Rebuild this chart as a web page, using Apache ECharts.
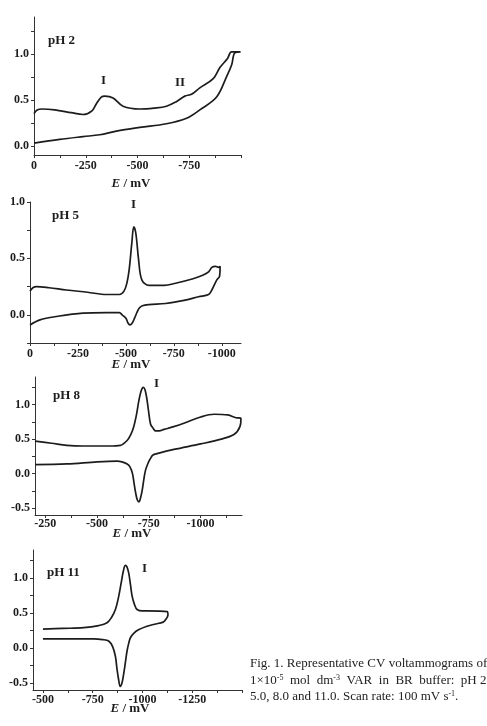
<!DOCTYPE html>
<html>
<head>
<meta charset="utf-8">
<script src="https://cdn.jsdelivr.net/npm/echarts@6/dist/echarts.min.js"></script>
<style>
  html, body { margin: 0; padding: 0; background: #fff; }
  #chart { width: 487px; height: 726px; }
</style>
</head>
<body>
<div id="chart"></div>
<script>
// pH 2 : forward scan (upper) then reverse scan (lower), E in mV, I in uA
const ph2Potential = [0, -15, -40, -100, -180, -237, -280, -302, -325, -342, -382, -430, -511, -580, -640, -688, -729, -761, -801, -866, -898, -935, -954, -998,
  -970, -955, -930, -882, -801, -737, -640, -511, -398, -318, -237, -124, 0];
const ph2Current = [0.35, 0.39, 0.40, 0.39, 0.36, 0.34, 0.38, 0.46, 0.53, 0.54, 0.52, 0.43, 0.40, 0.41, 0.43, 0.48, 0.54, 0.56, 0.63, 0.73, 0.85, 0.95, 1.02, 1.02,
  1.01, 0.88, 0.75, 0.53, 0.39, 0.30, 0.24, 0.20, 0.16, 0.12, 0.10, 0.07, 0.03];

// pH 5
const ph5Potential = [0, -15, -34, -100, -190, -300, -400, -466, -490, -505, -517, -531, -541, -552, -566, -583, -621, -700, -759, -850, -900, -931, -948, -966, -983, -991,
  -988, -974, -948, -931, -879, -810, -707, -620, -586, -570, -560, -545, -534, -521, -510, -500, -480, -466, -400, -276, -138, -52, 0];
const ph5Current = [0.21, 0.24, 0.25, 0.24, 0.22, 0.20, 0.18, 0.18, 0.21, 0.28, 0.40, 0.64, 0.78, 0.72, 0.49, 0.31, 0.26, 0.26, 0.28, 0.32, 0.35, 0.38, 0.42, 0.43, 0.42, 0.43,
  0.34, 0.31, 0.22, 0.18, 0.16, 0.13, 0.10, 0.09, 0.08, 0.06, 0.03, -0.03, -0.07, -0.09, -0.07, -0.03, 0.0, 0.02, 0.02, 0.015, -0.015, -0.045, -0.09];

// pH 8
const ph8Potential = [-200, -280, -354, -430, -500, -560, -613, -645, -662, -677, -690, -702, -713, -723, -731, -739, -748, -758, -770, -782, -800, -823, -870, -919, -1000, -1065, -1131, -1171, -1195,
  -1190, -1163, -1100, -1000, -871, -790, -770, -758, -746, -734, -726, -718, -710, -702, -694, -687, -679, -671, -658, -645, -620, -597, -500, -354, -200];
const ph8Current = [0.47, 0.44, 0.41, 0.40, 0.40, 0.40, 0.41, 0.48, 0.56, 0.68, 0.85, 1.06, 1.20, 1.25, 1.22, 1.11, 0.92, 0.72, 0.66, 0.62, 0.62, 0.64, 0.68, 0.73, 0.82, 0.86, 0.85, 0.81, 0.80,
  0.68, 0.57, 0.50, 0.43, 0.35, 0.29, 0.27, 0.22, 0.15, 0.05, -0.08, -0.24, -0.35, -0.41, -0.38, -0.29, -0.15, 0.0, 0.10, 0.14, 0.17, 0.18, 0.17, 0.14, 0.13];

// pH 11
const ph11Potential = [-500, -600, -705, -780, -822, -845, -864, -880, -893, -904, -914, -922, -931, -940, -948, -960, -973, -1000, -1023, -1124,
  -1128, -1115, -1104, -1060, -1023, -980, -956, -940, -931, -922, -914, -905, -897, -888, -880, -872, -864, -850, -830, -800, -755, -650, -500];
const ph11Current = [0.27, 0.28, 0.29, 0.32, 0.36, 0.44, 0.55, 0.73, 0.93, 1.10, 1.18, 1.16, 1.07, 0.90, 0.74, 0.62, 0.55, 0.53, 0.53, 0.52,
  0.47, 0.40, 0.37, 0.34, 0.31, 0.26, 0.21, 0.15, 0.07, -0.05, -0.21, -0.38, -0.50, -0.55, -0.45, -0.30, -0.12, 0.02, 0.10, 0.12, 0.13, 0.13, 0.13];

// axis ranges and tick labels
const xRanges = [[-1000, 0], [-1100, 0], [-1200, -200], [-1500, -450]];
const yRanges = [[-0.1, 1.4], [-0.25, 1.0], [-0.6, 1.4], [-0.6, 1.4]];
const xLabels = [[0, -250, -500, -750], [0, -250, -500, -750, -1000], [-250, -500, -750, -1000], [-500, -750, -1000, -1250]];
const yLabels = [[0, 0.5, 1.0], [0, 0.5, 1.0], [-0.5, 0, 0.5, 1.0], [-0.5, 0, 0.5, 1.0]];
const panelNames = ['pH 2', 'pH 5', 'pH 8', 'pH 11'];

const curves = [
  [ph2Potential, ph2Current],
  [ph5Potential, ph5Current],
  [ph8Potential, ph8Current],
  [ph11Potential, ph11Current]
];

const serif = 'Liberation Serif, Times New Roman, serif';
const ink = '#1c1c1c';

// grid boxes, pixel positions in the 487x726 page
const grids = [
  { left: 34, top: 17, width: 207, height: 138, outerBoundsMode: 'none' },
  { left: 30, top: 202, width: 211, height: 141, outerBoundsMode: 'none' },
  { left: 35, top: 377, width: 207, height: 138, outerBoundsMode: 'none' },
  { left: 33, top: 550, width: 209, height: 140, outerBoundsMode: 'none' }
];
const xLabelMargins = [5, 5, 3, 4];

function stepValues(from, to, step) {
  let out = [];
  for (let v = from; v >= to - 1e-9; v -= step) out.push(Math.round(v * 1000) / 1000);
  return out;
}

let xAxis = [];
let yAxis = [];
let series = [];
for (let i = 0; i < 4; i++) {
  const [xmin, xmax] = xRanges[i];
  const [ymin, ymax] = yRanges[i];
  xAxis.push({
    type: 'value',
    gridIndex: i,
    inverse: true,
    min: xmin,
    max: xmax,
    axisLine: { onZero: false, lineStyle: { color: '#333', width: 1 } },
    axisTick: {
      length: 3,
      lineStyle: { color: '#333' },
      customValues: stepValues(Math.ceil(xmax / 125) * 125, xmin, 125)
    },
    axisLabel: {
      customValues: xLabels[i],
      margin: xLabelMargins[i],
      fontFamily: serif,
      fontWeight: 'bold',
      fontSize: 12,
      color: ink,
      formatter: v => String(v)
    },
    splitLine: { show: false }
  });
  yAxis.push({
    type: 'value',
    gridIndex: i,
    min: ymin,
    max: ymax,
    name: 'I / μA',
    nameLocation: 'middle',
    nameRotate: 90,
    nameGap: 39,
    nameTextStyle: { fontFamily: serif, fontStyle: 'italic', fontWeight: 'bold', fontSize: 13, color: ink },
    axisLine: { onZero: false, lineStyle: { color: '#333', width: 1 } },
    axisTick: {
      length: 3,
      lineStyle: { color: '#333' },
      customValues: stepValues(Math.floor(ymax / 0.25) * 0.25, ymin, 0.25)
    },
    axisLabel: {
      customValues: yLabels[i],
      margin: 5,
      fontFamily: serif,
      fontWeight: 'bold',
      fontSize: 12,
      color: ink,
      formatter: v => v.toFixed(1)
    },
    splitLine: { show: false }
  });
  series.push({
    name: panelNames[i],
    type: 'line',
    xAxisIndex: i,
    yAxisIndex: i,
    data: curves[i][0].map((e, k) => [e, curves[i][1][k]]),
    showSymbol: false,
    smooth: 0.35,
    lineStyle: { color: ink, width: 1.7 },
    silent: true
  });
}

function label(text, x, y, size) {
  return {
    type: 'text',
    x: x,
    y: y,
    style: {
      text: text,
      fontFamily: serif,
      fontWeight: 'bold',
      fontSize: size || 13,
      fill: ink,
      verticalAlign: 'middle'
    }
  };
}

function axisTitle(x, y) {
  return {
    type: 'text',
    x: x,
    y: y,
    style: {
      text: '{i|E} / mV',
      fontFamily: serif,
      fontWeight: 'bold',
      fontSize: 13,
      fill: ink,
      align: 'center',
      verticalAlign: 'middle',
      rich: {
        i: { fontFamily: serif, fontStyle: 'italic', fontWeight: 'bold', fontSize: 13, fill: ink }
      }
    }
  };
}

const captionRich = {
  sup: { fontFamily: serif, fontSize: 8, fill: '#222', verticalAlign: 'top', padding: [0, 0, 6, 0] }
};
function captionLine(text, y) {
  return {
    type: 'text',
    x: 250,
    y: y,
    style: {
      text: text,
      fontFamily: serif,
      fontSize: 13,
      fill: '#222',
      verticalAlign: 'middle',
      rich: captionRich
    }
  };
}

const graphic = [
  label('pH 2', 48, 41),
  label('I', 101, 81),
  label('II', 175, 83),
  label('pH 5', 52, 216),
  label('I', 131, 205),
  label('pH 8', 53, 396),
  label('I', 154, 384),
  label('pH 11', 47, 573),
  label('I', 142, 569),
  axisTitle(131, 184),
  axisTitle(131, 365),
  axisTitle(132, 534),
  axisTitle(130, 709),
  captionLine('Fig. 1. Representative CV voltammograms of', 664),
  captionLine('1×10{sup|-5}  mol  dm{sup|-3}  VAR  in  BR  buffer:  pH 2.0,', 681),
  captionLine('5.0, 8.0 and 11.0. Scan rate: 100 mV s{sup|-1}.', 697)
];

const myChart = echarts.init(document.getElementById('chart'), null, { renderer: 'canvas' });
myChart.setOption({
  backgroundColor: '#fff',
  animation: false,
  grid: grids,
  xAxis: xAxis,
  yAxis: yAxis,
  series: series,
  graphic: graphic
});
</script>
</body>
</html>
